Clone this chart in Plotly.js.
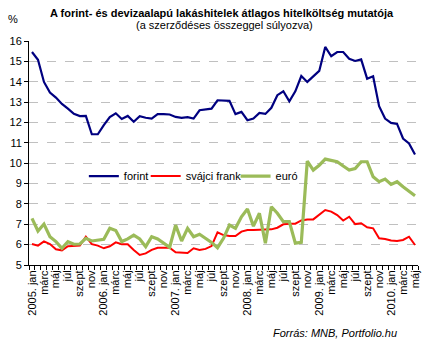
<!DOCTYPE html>
<html>
<head>
<meta charset="utf-8">
<script src="https://cdn.plot.ly/plotly-3.0.1.min.js"></script>
<style>html,body{margin:0;padding:0;background:#fff}#chart{width:429px;height:343px}</style>
</head>
<body>
<div id="chart"></div>
<script>
const months = [
"2005. jan","febr","márc","ápr","máj","jún","júl","aug","szept","okt","nov","dec",
"2006. jan","febr","márc","ápr","máj","jún","júl","aug","szept","okt","nov","dec",
"2007. jan","febr","márc","ápr","máj","jún","júl","aug","szept","okt","nov","dec",
"2008. jan","febr","márc","ápr","máj","jún","júl","aug","szept","okt","nov","dec",
"2009. jan","febr","márc","ápr","máj","jún","júl","aug","szept","okt","nov","dec",
"2010. jan","febr","márc","ápr","máj"];

const forint = [15.46,15.08,13.99,13.47,13.22,12.91,12.68,12.42,12.31,12.32,11.42,11.42,
11.87,12.26,12.45,12.17,12.32,12.03,12.31,12.23,12.19,12.41,12.41,12.39,
12.27,12.23,12.26,12.19,12.60,12.65,12.68,13.09,13.09,13.06,12.41,12.52,
12.11,12.19,12.47,12.42,12.72,13.34,13.53,13.04,13.53,14.28,13.99,14.25,
14.53,15.71,15.25,15.46,15.46,15.13,15.02,15.10,14.15,14.27,12.80,12.19,
11.98,11.93,11.21,10.97,10.43];

const svajciFrank = [6.03,5.95,6.16,6.03,5.77,5.72,5.92,5.93,5.95,6.39,6.02,5.95,
5.82,5.92,6.11,6.02,6.02,5.74,5.49,5.57,5.74,5.85,5.85,5.85,
5.62,5.59,5.59,5.82,5.74,5.79,5.93,6.60,6.47,6.42,6.42,6.64,
6.72,6.72,6.72,6.75,6.75,6.83,7.00,7.03,7.03,7.19,7.24,7.24,
7.45,7.70,7.62,7.45,7.18,7.37,7.01,7.05,6.85,6.80,6.31,6.28,
6.20,6.18,6.23,6.39,5.98];

const euro = [7.29,6.67,7.01,6.39,6.15,5.82,6.15,6.02,6.03,6.31,6.18,6.21,
6.26,6.80,6.69,6.15,6.28,6.47,6.28,5.90,6.39,6.28,6.07,5.87,
6.96,6.18,6.80,6.39,6.51,6.31,6.11,5.85,6.31,6.96,6.80,7.37,
7.75,6.91,7.54,6.07,7.86,7.54,7.13,7.13,6.07,6.11,10.10,9.66,
9.90,10.20,10.12,10.07,9.86,9.66,9.74,10.07,10.07,9.33,9.09,9.22,
8.96,9.09,8.84,8.60,8.40];

const seriesNames = ["forint","svájci frank","euró"];
const yTicks = [5,6,7,8,9,10,11,12,13,14,15,16];

const xIdx = months.map((m,i)=>i);
const tickIdx = xIdx.filter(i=>i%2===0);
const tickTxt = tickIdx.map(i=>months[i]);

const FONT = "'Liberation Sans', Arial, sans-serif";

const traces = [
  {x:xIdx, y:forint, name:seriesNames[0], type:'scatter', mode:'lines',
   line:{color:'#000080', width:2.2}, legend:'legend'},
  {x:xIdx, y:svajciFrank, name:seriesNames[1], type:'scatter', mode:'lines',
   line:{color:'#ff0000', width:2}, legend:'legend2'},
  {x:xIdx, y:euro, name:seriesNames[2], type:'scatter', mode:'lines',
   line:{color:'#9bbb59', width:3.2}, legend:'legend3'}
];

const legBase = {orientation:'h', yanchor:'middle', xanchor:'left', y:0.397,
  bgcolor:'rgba(0,0,0,0)', font:{family:FONT, size:11, color:'#000'}, borderwidth:0};

const layout = {
  width:429, height:343,
  margin:{l:29, r:11, t:41, b:78, pad:0},
  paper_bgcolor:'#fff', plot_bgcolor:'#fff',
  font:{family:FONT, size:11, color:'#000'},
  showlegend:true,
  legend:Object.assign({}, legBase, {x:0.141}),
  legend2:Object.assign({}, legBase, {x:0.300}),
  legend3:Object.assign({}, legBase, {x:0.531}),
  xaxis:{
    range:[-0.5, 64.5], tickmode:'array', tickvals:tickIdx, ticktext:tickTxt,
    tickangle:-90, ticks:'', showgrid:false, zeroline:false,
    showline:true, linecolor:'#000', linewidth:1,
    tickfont:{family:FONT, size:11, color:'#000'},
    minor:{tickmode:'linear', tick0:-0.5, dtick:1, ticks:'outside', ticklen:4, tickcolor:'#000', showgrid:false}
  },
  yaxis:{
    range:[5,16], tickmode:'array', tickvals:yTicks, ticks:'outside', ticklen:4, tickcolor:'#000',
    showline:true, linecolor:'#000', linewidth:1, zeroline:false,
    showgrid:true, gridcolor:'#c0c0c0', griddash:'dash', gridwidth:1,
    tickfont:{family:FONT, size:11, color:'#000'}
  },
  annotations:[
    {text:'<b>A forint- és devizaalapú lakáshitelek átlagos hitelköltség mutatója</b>', xref:'paper', yref:'paper',
     x:0.496, y:1.1235, xanchor:'center', yanchor:'middle', showarrow:false, font:{family:FONT, size:11, color:'#000'}},
    {text:'(a szerződéses összeggel súlyozva)', xref:'paper', yref:'paper',
     x:0.5026, y:1.070, xanchor:'center', yanchor:'middle', showarrow:false, font:{family:FONT, size:11, color:'#000'}},
    {text:'%', xref:'paper', yref:'paper', x:-0.0424, y:1.097, xanchor:'center', yanchor:'middle',
     showarrow:false, font:{family:FONT, size:11, color:'#000'}},
    {text:'<i>Forrás: MNB, Portfolio.hu</i>', xref:'paper', yref:'paper', x:0.951, y:-0.302,
     xanchor:'right', yanchor:'middle', showarrow:false, font:{family:FONT, size:11, color:'#000'}}
  ]
};

Plotly.newPlot('chart', traces, layout, {displayModeBar:false, staticPlot:true});
</script>
</body>
</html>
